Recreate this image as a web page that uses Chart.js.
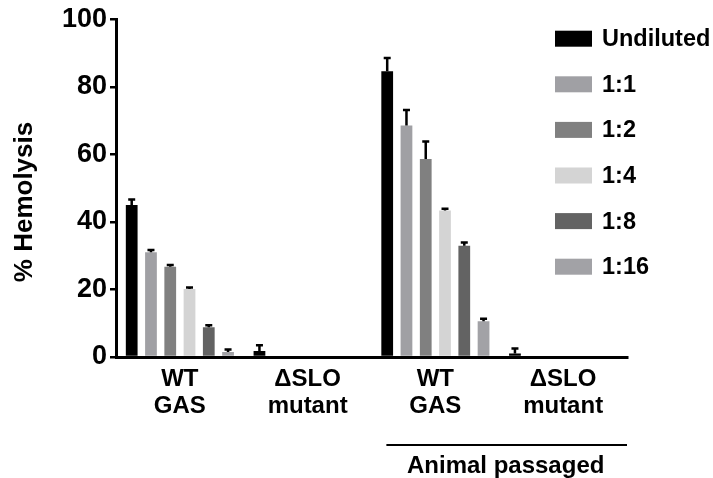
<!DOCTYPE html>
<html>
<head>
<meta charset="utf-8">
<script src="https://cdn.jsdelivr.net/npm/chart.js@4.4.1/dist/chart.umd.min.js"></script>
<style>
  html, body { margin: 0; padding: 0; background: #fff; }
  #wrap { width: 713px; height: 478px; position: relative; }
</style>
</head>
<body>
<div id="wrap"><canvas id="hemo"></canvas></div>
<script>
// Hemolysis by dilution, WT vs ΔSLO, before / after animal passage

const GROUPS = [['WT', 'GAS'], ['ΔSLO', 'mutant'], ['WT', 'GAS'], ['ΔSLO', 'mutant']];
const DILUTIONS = ['Undiluted', '1:1', '1:2', '1:4', '1:8', '1:16'];
const Y_TICKS = [0, 20, 40, 60, 80, 100];

// mean % hemolysis per dilution, one entry per group
const undiluted = [45.0, 1.8, 84.6, 1.0];
const dil1_1    = [31.0, 0, 68.5, 0];
const dil1_2    = [26.7, 0, 58.6, 0];
const dil1_4    = [20.1, 0, 43.4, 0];
const dil1_8    = [8.8, 0, 32.9, 0];
const dil1_16   = [1.5, 0, 10.6, 0];

// upper error (SD) per dilution
const errUndiluted = [1.6, 1.7, 3.9, 1.5];
const err1_1       = [0.7, 0, 4.6, 0];
const err1_2       = [0.5, 0, 5.2, 0];
const err1_4       = [0.5, 0, 0.5, 0];
const err1_8       = [0.6, 0, 1.0, 0];
const err1_16      = [0.7, 0, 0.7, 0];

const SERIES = [undiluted, dil1_1, dil1_2, dil1_4, dil1_8, dil1_16];
const ERRORS = [errUndiluted, err1_1, err1_2, err1_4, err1_8, err1_16];
const COLORS = ['#000000', '#a0a0a4', '#808080', '#d4d4d4', '#636363', '#a2a2a6'];

const FONT = "'Liberation Sans', Arial, Helvetica, sans-serif";

// upper-only error bars with a small cap
const errorBars = {
  id: 'errorBars',
  afterDatasetsDraw(chart) {
    const { ctx } = chart;
    const y = chart.scales.y;
    ctx.save();
    ctx.strokeStyle = '#000';
    ctx.lineWidth = 2.5;
    chart.data.datasets.forEach((ds, di) => {
      const meta = chart.getDatasetMeta(di);
      meta.data.forEach((bar, i) => {
        const e = ERRORS[di][i];
        if (!e) return;
        const yTop = y.getPixelForValue(ds.data[i] + e);
        ctx.beginPath();
        ctx.moveTo(bar.x, bar.y);
        ctx.lineTo(bar.x, yTop);
        ctx.moveTo(bar.x - 3.5, yTop);
        ctx.lineTo(bar.x + 3.5, yTop);
        ctx.stroke();
      });
    });
    ctx.restore();
  }
};

// y title, legend block in the top right + "Animal passaged" bracket
const decorations = {
  id: 'decorations',
  afterDraw(chart) {
    const { ctx, chartArea } = chart;
    const x = chart.scales.x;
    ctx.save();

    // y title sits a little below the axis middle in the original
    ctx.save();
    ctx.translate(25, 202);
    ctx.rotate(-Math.PI / 2);
    ctx.textAlign = 'center';
    ctx.textBaseline = 'middle';
    ctx.fillStyle = '#000';
    ctx.font = `bold 26px ${FONT}`;
    ctx.fillText('% Hemolysis', 0, 0);
    ctx.restore();

    ctx.textBaseline = 'middle';
    ctx.textAlign = 'left';
    ctx.font = `bold 23.5px ${FONT}`;
    chart.data.datasets.forEach((ds, i) => {
      const cy = 38.7 + i * 45.6;
      ctx.fillStyle = ds.backgroundColor;
      ctx.fillRect(555, cy - 8, 37, 16);
      ctx.fillStyle = '#000';
      ctx.fillText(ds.label, 602, cy + 1);
    });

    const x1 = x.getPixelForValue(2) - 49;
    const x2 = chartArea.right;
    ctx.strokeStyle = '#000';
    ctx.lineWidth = 2;
    ctx.beginPath();
    ctx.moveTo(x1, 445);
    ctx.lineTo(x2, 445);
    ctx.stroke();
    ctx.textAlign = 'center';
    ctx.font = `bold 24px ${FONT}`;
    ctx.fillText('Animal passaged', (x1 + x2) / 2 - 1, 466);
    ctx.restore();
  }
};

new Chart(document.getElementById('hemo'), {
  type: 'bar',
  data: {
    labels: GROUPS,
    datasets: SERIES.map((s, i) => ({
      label: DILUTIONS[i],
      data: s,
      backgroundColor: COLORS[i],
      borderWidth: 0,
      categoryPercentage: 0.905,
      barPercentage: 0.61
    }))
  },
  options: {
    responsive: true,
    maintainAspectRatio: false,
    animation: false,
    layout: { padding: { left: 0, top: 17, right: 86, bottom: 0 } },
    plugins: {
      legend: { display: false },
      tooltip: { enabled: false }
    },
    scales: {
      x: {
        afterFit: s => { s.height = 121; },
        grid: { display: false, drawOnChartArea: false, drawTicks: true, tickLength: 6, tickColor: '#000', lineWidth: 2.5 },
        border: { display: true, color: '#000', width: 3 },
        ticks: {
          color: '#000',
          padding: 3,
          font: { family: FONT, size: 24, weight: 'bold', lineHeight: 1.125 }
        }
      },
      y: {
        min: 0,
        max: 100,
        afterFit: s => { s.width = 116; },
        afterBuildTicks: s => { s.ticks = Y_TICKS.map(v => ({ value: v })); },
        grid: { display: true, drawOnChartArea: false, drawTicks: true, tickLength: 6, tickColor: '#000', lineWidth: 2.5 },
        border: { display: true, color: '#000', width: 3 },
        ticks: {
          color: '#000',
          padding: 3,
          font: { family: FONT, size: 27, weight: 'bold' }
        }
      }
    }
  },
  plugins: [errorBars, decorations]
});
</script>
</body>
</html>
